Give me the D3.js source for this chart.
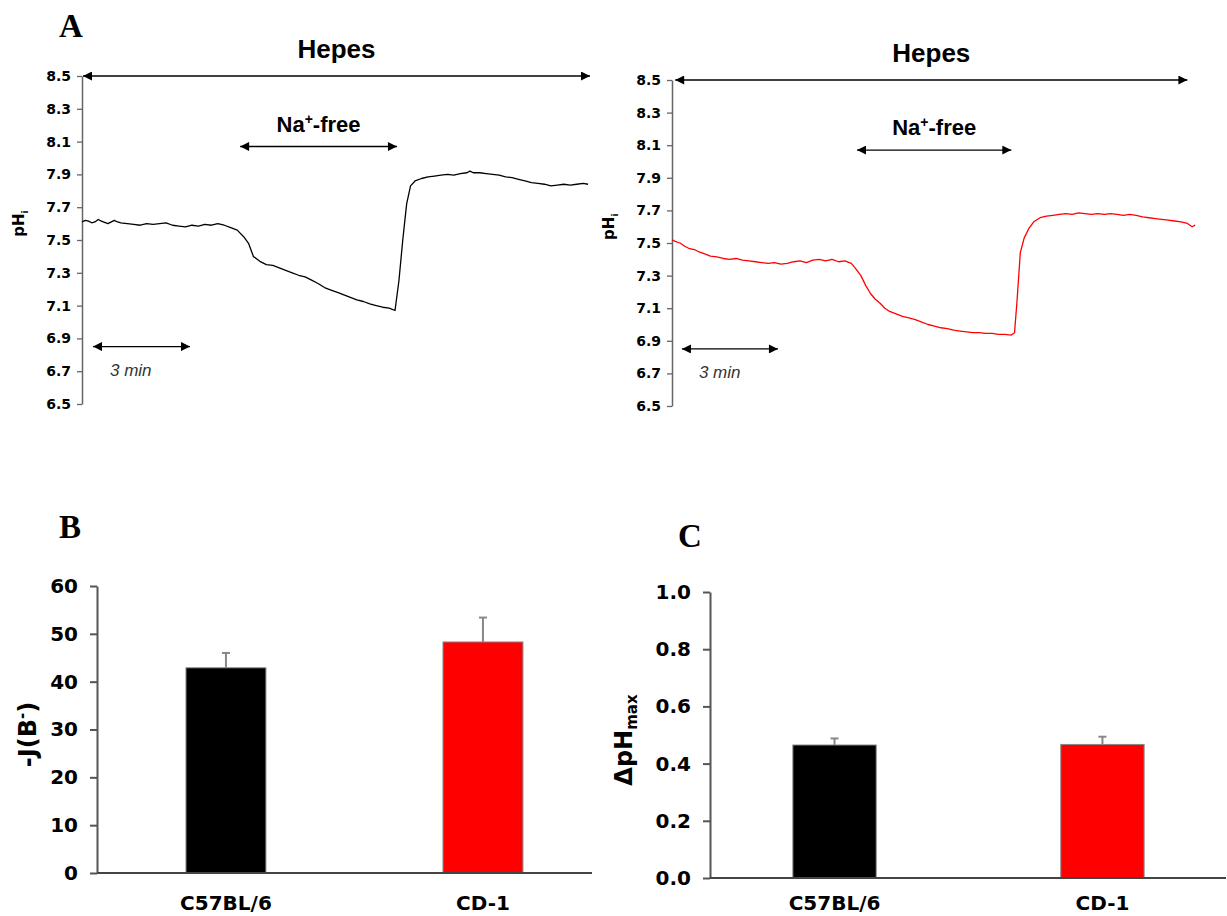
<!DOCTYPE html>
<html>
<head>
<meta charset="utf-8">
<script src="https://cdn.jsdelivr.net/npm/d3@7"></script>
<style>
  body { margin: 0; background: #fff; }
  svg { display: block; }
</style>
</head>
<body>
<div id="chart"></div>
<script>
const width = 1227
const height = 916

// pHi recordings, [minutes, pH]
const c57Trace = [
  [0.0, 7.61], [0.1, 7.62], [0.2, 7.615], [0.3, 7.605], [0.4, 7.61], [0.5, 7.625], [0.6, 7.615],
  [0.8, 7.6], [1.0, 7.62], [1.1, 7.61], [1.2, 7.605], [1.4, 7.6], [1.6, 7.595], [1.8, 7.59],
  [2.0, 7.6], [2.2, 7.595], [2.4, 7.6], [2.6, 7.605], [2.8, 7.59], [3.0, 7.585], [3.2, 7.58],
  [3.4, 7.59], [3.6, 7.585], [3.8, 7.595], [4.0, 7.59], [4.2, 7.6], [4.4, 7.59], [4.6, 7.575],
  [4.8, 7.56], [5.0, 7.52], [5.15, 7.48], [5.3, 7.4], [5.5, 7.37], [5.7, 7.35], [5.9, 7.345],
  [6.1, 7.33], [6.3, 7.315], [6.5, 7.3], [6.7, 7.285], [6.9, 7.275], [7.1, 7.255], [7.3, 7.235],
  [7.5, 7.21], [7.7, 7.195], [7.9, 7.18], [8.1, 7.165], [8.3, 7.15], [8.5, 7.135], [8.7, 7.125],
  [8.9, 7.11], [9.1, 7.1], [9.3, 7.09], [9.5, 7.085], [9.68, 7.07], [9.8, 7.25], [9.92, 7.5],
  [10.04, 7.72], [10.16, 7.83], [10.3, 7.86], [10.5, 7.875], [10.7, 7.885], [10.9, 7.89],
  [11.1, 7.895], [11.3, 7.9], [11.5, 7.895], [11.7, 7.905], [11.9, 7.91], [12.0, 7.92],
  [12.1, 7.91], [12.3, 7.91], [12.5, 7.905], [12.7, 7.9], [12.9, 7.895], [13.1, 7.885],
  [13.3, 7.88], [13.5, 7.87], [13.7, 7.86], [13.9, 7.85], [14.1, 7.845], [14.3, 7.84],
  [14.5, 7.83], [14.7, 7.835], [14.9, 7.84], [15.1, 7.835], [15.3, 7.84], [15.5, 7.845],
  [15.65, 7.84]
]

const cd1Trace = [
  [0.0, 7.52], [0.1, 7.51], [0.25, 7.5], [0.4, 7.48], [0.55, 7.465], [0.7, 7.46],
  [0.85, 7.445], [1.0, 7.435], [1.2, 7.42], [1.4, 7.415], [1.6, 7.405], [1.8, 7.4],
  [2.0, 7.405], [2.2, 7.395], [2.4, 7.39], [2.6, 7.385], [2.8, 7.38], [3.0, 7.375],
  [3.2, 7.38], [3.4, 7.37], [3.6, 7.375], [3.8, 7.385], [4.0, 7.39], [4.2, 7.38],
  [4.4, 7.395], [4.6, 7.4], [4.8, 7.39], [5.0, 7.4], [5.2, 7.385], [5.4, 7.39],
  [5.6, 7.375], [5.75, 7.34], [5.9, 7.3], [6.05, 7.24], [6.2, 7.19], [6.35, 7.155],
  [6.5, 7.13], [6.65, 7.1], [6.8, 7.08], [7.0, 7.065], [7.2, 7.05], [7.4, 7.04],
  [7.6, 7.03], [7.8, 7.015], [8.0, 7.0], [8.2, 6.99], [8.4, 6.98], [8.6, 6.975],
  [8.8, 6.965], [9.0, 6.96], [9.2, 6.955], [9.4, 6.95], [9.6, 6.95], [9.8, 6.945],
  [10.0, 6.945], [10.2, 6.94], [10.4, 6.94], [10.6, 6.935], [10.7, 6.95], [10.78, 7.15],
  [10.88, 7.44], [11.0, 7.53], [11.15, 7.59], [11.3, 7.63], [11.5, 7.655], [11.7, 7.665],
  [11.9, 7.67], [12.1, 7.675], [12.3, 7.68], [12.5, 7.675], [12.7, 7.685], [12.9, 7.68],
  [13.1, 7.675], [13.3, 7.68], [13.5, 7.675], [13.7, 7.68], [13.9, 7.675], [14.1, 7.67],
  [14.3, 7.675], [14.5, 7.67], [14.7, 7.66], [14.9, 7.655], [15.1, 7.65], [15.3, 7.645],
  [15.5, 7.64], [15.7, 7.635], [15.9, 7.63], [16.1, 7.62], [16.25, 7.6], [16.34, 7.61]
]

const phTicks = [6.5, 6.7, 6.9, 7.1, 7.3, 7.5, 7.7, 7.9, 8.1, 8.3, 8.5]

// solution bars [start, end] in minutes, and the pH level they sit at
const c57Hepes = [0.03, 15.71]
const c57NaFree = [4.89, 9.74]
const c57ScaleBar = [0.34, 3.34]
const cd1Hepes = [0.1, 16.1]
const cd1NaFree = [5.78, 10.6]
const cd1ScaleBar = [0.31, 3.31]
const hepesLevel = 8.5
const naFreeLevel = 8.07
const scaleBarLevel = 6.85

const strains = ['C57BL/6', 'CD-1']
const strainColors = ['#000000', '#ff0000']
const fluxMean = [42.9, 48.3]
const fluxSem = [3.1, 5.1]
const fluxTicks = [0, 10, 20, 30, 40, 50, 60]
const dphMean = [0.465, 0.467]
const dphSem = [0.023, 0.027]
const dphTicks = [0, 0.2, 0.4, 0.6, 0.8, 1.0]

const svg = d3
  .select('#chart')
  .append('svg')
  .attr('width', width)
  .attr('height', height)
  .attr('viewBox', [0, 0, width, height])

svg
  .append('defs')
  .append('marker')
  .attr('id', 'head')
  .attr('viewBox', '0 0 10 10')
  .attr('refX', 10)
  .attr('refY', 5)
  .attr('markerUnits', 'userSpaceOnUse')
  .attr('markerWidth', 11)
  .attr('markerHeight', 9)
  .attr('orient', 'auto-start-reverse')
  .append('path')
  .attr('d', 'M0,0L10,5L0,10Z')
  .attr('fill', '#000')

const tickFont = g =>
  g
    .attr('font-family', "'DejaVu Sans', sans-serif")
    .attr('font-weight', 'bold')
    .call(g => g.selectAll('text').attr('fill', '#000'))

function panelLetter(text, x, y) {
  svg
    .append('text')
    .attr('x', x)
    .attr('y', y)
    .attr('text-anchor', 'middle')
    .attr('font-family', "'Liberation Serif', 'Times New Roman', serif")
    .attr('font-weight', 'bold')
    .attr('font-size', 33)
    .text(text)
}

function arrow(g, x, y, span, level) {
  g.append('line')
    .attr('x1', x(span[0]))
    .attr('x2', x(span[1]))
    .attr('y1', y(level))
    .attr('y2', y(level))
    .attr('stroke', '#000')
    .attr('stroke-width', 1.3)
    .attr('marker-start', 'url(#head)')
    .attr('marker-end', 'url(#head)')
}

function trace(cfg) {
  const g = svg.append('g')
  const x = d3.scaleLinear().domain(cfg.xDomain).range(cfg.xRange)
  const y = d3.scaleLinear().domain([6.5, 8.5]).range(cfg.yRange)

  g.append('g')
    .attr('transform', `translate(${cfg.xRange[0]},0)`)
    .call(
      d3
        .axisLeft(y)
        .tickValues(phTicks)
        .tickFormat(d3.format('.1f'))
        .tickSize(5)
        .tickSizeOuter(0)
        .tickPadding(6)
    )
    .call(tickFont)
    .attr('font-size', 14)
    .call(g => g.select('.domain').attr('stroke', '#666').attr('stroke-width', 1.5))
    .call(g => g.selectAll('.tick line').attr('stroke', '#666').attr('stroke-width', 1.3))

  g.append('text')
    .attr('transform', `translate(${cfg.xRange[0] - 58},${y(7.6)}) rotate(-90)`)
    .attr('text-anchor', 'middle')
    .attr('font-family', "'DejaVu Sans', sans-serif")
    .attr('font-weight', 'bold')
    .attr('font-size', 15)
    .call(t => t.append('tspan').text('pH'))
    .call(t => t.append('tspan').attr('font-size', 9).attr('dy', 4).text('i'))

  g.append('path')
    .datum(cfg.data)
    .attr('fill', 'none')
    .attr('stroke', cfg.color)
    .attr('stroke-width', 1.3)
    .attr('stroke-linejoin', 'round')
    .attr('d', d3.line().x(d => x(d[0])).y(d => y(d[1])))

  arrow(g, x, y, cfg.hepes, hepesLevel)
  arrow(g, x, y, cfg.naFree, naFreeLevel)
  arrow(g, x, y, cfg.scaleBar, scaleBarLevel)

  g.append('text')
    .attr('x', x(d3.mean(cfg.hepes)))
    .attr('y', y(hepesLevel) - 18)
    .attr('text-anchor', 'middle')
    .attr('font-family', "'Liberation Sans', Arial, sans-serif")
    .attr('font-weight', 'bold')
    .attr('font-size', 26)
    .text('Hepes')

  g.append('text')
    .attr('x', x(d3.mean(cfg.naFree)))
    .attr('y', y(naFreeLevel) - 15)
    .attr('text-anchor', 'middle')
    .attr('font-family', "'Liberation Sans', Arial, sans-serif")
    .attr('font-weight', 'bold')
    .attr('font-size', 22)
    .call(t => t.append('tspan').text('Na'))
    .call(t => t.append('tspan').attr('font-size', 14).attr('dy', -8).text('+'))
    .call(t => t.append('tspan').attr('dy', 8).text('-free'))

  g.append('text')
    .attr('x', x(cfg.scaleBar[0]) + 17)
    .attr('y', y(scaleBarLevel) + 29)
    .attr('font-family', "'Liberation Sans', Arial, sans-serif")
    .attr('font-style', 'italic')
    .attr('font-size', 17)
    .attr('fill', '#333')
    .text('3 min')
}

trace({
  data: c57Trace,
  color: '#000',
  xDomain: [0, 15.71],
  xRange: [82, 590],
  yRange: [404, 76],
  hepes: c57Hepes,
  naFree: c57NaFree,
  scaleBar: c57ScaleBar,
})

trace({
  data: cd1Trace,
  color: '#ff0000',
  xDomain: [0, 16.4],
  xRange: [672, 1197],
  yRange: [406, 80],
  hepes: cd1Hepes,
  naFree: cd1NaFree,
  scaleBar: cd1ScaleBar,
})

function bars(cfg) {
  const g = svg.append('g')
  const x = d3
    .scaleBand()
    .domain(strains)
    .range(cfg.xRange)
    .paddingInner(0.689)
    .paddingOuter(0.3075)
    .align(cfg.align)
  const y = d3.scaleLinear().domain(cfg.yDomain).range(cfg.yRange)

  g.append('g')
    .attr('transform', `translate(${cfg.xRange[0]},0)`)
    .call(
      d3
        .axisLeft(y)
        .tickValues(cfg.ticks)
        .tickFormat(cfg.format)
        .tickSize(7)
        .tickSizeOuter(0)
        .tickPadding(12)
    )
    .call(tickFont)
    .attr('font-size', 20)
    .call(g => g.select('.domain').attr('stroke', '#555').attr('stroke-width', 2))
    .call(g => g.selectAll('.tick line').attr('stroke', '#555').attr('stroke-width', 2))

  g.selectAll('rect')
    .data(strains)
    .join('rect')
    .attr('x', d => x(d))
    .attr('width', x.bandwidth())
    .attr('y', (d, i) => y(cfg.mean[i]))
    .attr('height', (d, i) => y(0) - y(cfg.mean[i]))
    .attr('fill', (d, i) => strainColors[i])
    .attr('stroke', '#888')
    .attr('stroke-width', 1)

  const err = g
    .selectAll('.err')
    .data(strains)
    .join('g')
    .attr('class', 'err')
    .attr('stroke', '#888')
    .attr('stroke-width', 2)
  err
    .append('line')
    .attr('x1', d => x(d) + x.bandwidth() / 2)
    .attr('x2', d => x(d) + x.bandwidth() / 2)
    .attr('y1', (d, i) => y(cfg.mean[i]))
    .attr('y2', (d, i) => y(cfg.mean[i] + cfg.sem[i]))
  err
    .append('line')
    .attr('x1', d => x(d) + x.bandwidth() / 2 - 4)
    .attr('x2', d => x(d) + x.bandwidth() / 2 + 4)
    .attr('y1', (d, i) => y(cfg.mean[i] + cfg.sem[i]))
    .attr('y2', (d, i) => y(cfg.mean[i] + cfg.sem[i]))

  g.append('line')
    .attr('x1', cfg.xRange[0])
    .attr('x2', cfg.xRange[1])
    .attr('y1', y(0))
    .attr('y2', y(0))
    .attr('stroke', '#444')
    .attr('stroke-width', 2)

  g.selectAll('.cat')
    .data(strains)
    .join('text')
    .attr('class', 'cat')
    .attr('x', d => x(d) + x.bandwidth() / 2)
    .attr('y', y(0) + cfg.labelGap)
    .attr('text-anchor', 'middle')
    .attr('font-family', "'DejaVu Sans', sans-serif")
    .attr('font-weight', 'bold')
    .attr('font-size', 20)
    .text(d => d)

  const label = g
    .append('text')
    .attr('transform', `translate(${cfg.labelX},${d3.mean(cfg.yRange) + 5}) rotate(-90)`)
    .attr('text-anchor', 'middle')
    .attr('font-family', "'DejaVu Sans', sans-serif")
    .attr('font-weight', 'bold')
    .attr('font-size', 24)
  cfg.label(label)
}

bars({
  xRange: [97, 592],
  align: 0.563,
  yDomain: [0, 60],
  yRange: [873, 586],
  ticks: fluxTicks,
  format: d3.format('d'),
  mean: fluxMean,
  sem: fluxSem,
  labelGap: 37,
  labelX: 36,
  label: t =>
    t
      .call(t => t.append('tspan').text('-J(B'))
      .call(t => t.append('tspan').attr('font-size', 15).attr('dy', -9).text('-'))
      .call(t => t.append('tspan').attr('dy', 9).text(')')),
})

bars({
  xRange: [710, 1226],
  align: 0.503,
  yDomain: [0, 1],
  yRange: [878, 592],
  ticks: dphTicks,
  format: d3.format('.1f'),
  mean: dphMean,
  sem: dphSem,
  labelGap: 32,
  labelX: 632,
  label: t =>
    t
      .call(t => t.append('tspan').text('ΔpH'))
      .call(t => t.append('tspan').attr('font-size', 15).attr('dy', 5).text('max')),
})

panelLetter('A', 71, 37)
panelLetter('B', 70, 538)
panelLetter('C', 690, 547)
</script>
</body>
</html>
